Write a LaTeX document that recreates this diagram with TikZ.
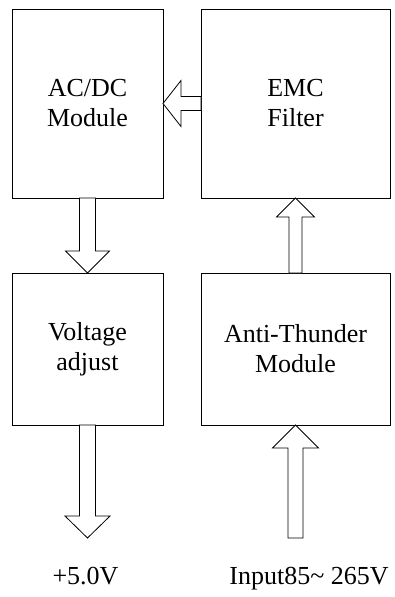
\documentclass[tikz,border=0pt]{standalone}
\usepackage{fontspec}
\setmainfont{Liberation Serif}
\usetikzlibrary{calc, positioning}

\begin{document}
\begin{tikzpicture}[
      x=1pt, y=1pt,
      font=\fontsize{26}{30}\selectfont,
      box/.style={rectangle, draw, line width=0.8pt, inner sep=0pt, outer sep=0pt, align=center, text centered},
      blockarrow/.style={draw, line width=0.8pt, fill=white, line join=miter},
      label/.style={anchor=base, inner sep=0pt}
    ]
    \useasboundingbox (0,0) rectangle (395,-597);

    \node[box, minimum width=151pt, minimum height=189pt] (acdc) at (87.5,-103.5) {AC/DC\\Module};
    \node[box, minimum width=189pt, minimum height=189pt, right=38pt of acdc] (emc) {EMC\\Filter};
    \node[box, minimum width=151pt, minimum height=152pt, below=75pt of acdc] (volt) {Voltage\\adjust};
    \node[box, minimum width=189pt, minimum height=152pt, below=75pt of emc] (thunder) {Anti-Thunder\\Module};

    \coordinate[below=113pt of volt.south] (vout);
    \coordinate[below=113pt of thunder.south] (vin);

    \node[label] (lout) at ($(vout)+(-2,-46)$) {+5.0V};
    \node[label] (lin) at ($(vin)+(13.5,-46)$) {Input85\textasciitilde{} 265V};

    % block arrows
    \draw[blockarrow] ($(emc.west)+(0,7)$) -- ($(acdc.east)+(18,7)$) -- ++(0,16) -- (acdc.east)
      -- ++(18,-23) -- ++(0,16) -- ($(emc.west)+(0,-7)$) -- cycle;
    \draw[blockarrow] ($(acdc.south)+(-8,0)$) -- ($(volt.north)+(-8,22)$) -- ++(-14,0) -- (volt.north)
      -- ++(22,22) -- ++(-14,0) -- ($(acdc.south)+(8,0)$) -- cycle;
    \draw[blockarrow] ($(thunder.north)+(-6.5,0)$) -- ($(emc.south)+(-6.5,-19)$) -- ++(-12.5,0) -- (emc.south)
      -- ++(19,-19) -- ++(-12.5,0) -- ($(thunder.north)+(6.5,0)$) -- cycle;
    \draw[blockarrow] ($(volt.south)+(-8,0)$) -- ($(vout)+(-8,22)$) -- ++(-14.5,0) -- (vout)
      -- ++(22.5,22) -- ++(-14.5,0) -- ($(volt.south)+(8,0)$) -- cycle;
    \draw[blockarrow] ($(vin)+(-7.5,0)$) -- ($(thunder.south)+(-7.5,-23)$) -- ++(-15.5,0) -- (thunder.south)
      -- ++(23,-23) -- ++(-15.5,0) -- ($(vin)+(7.5,0)$) -- cycle;

    \end{tikzpicture}
\end{document}
